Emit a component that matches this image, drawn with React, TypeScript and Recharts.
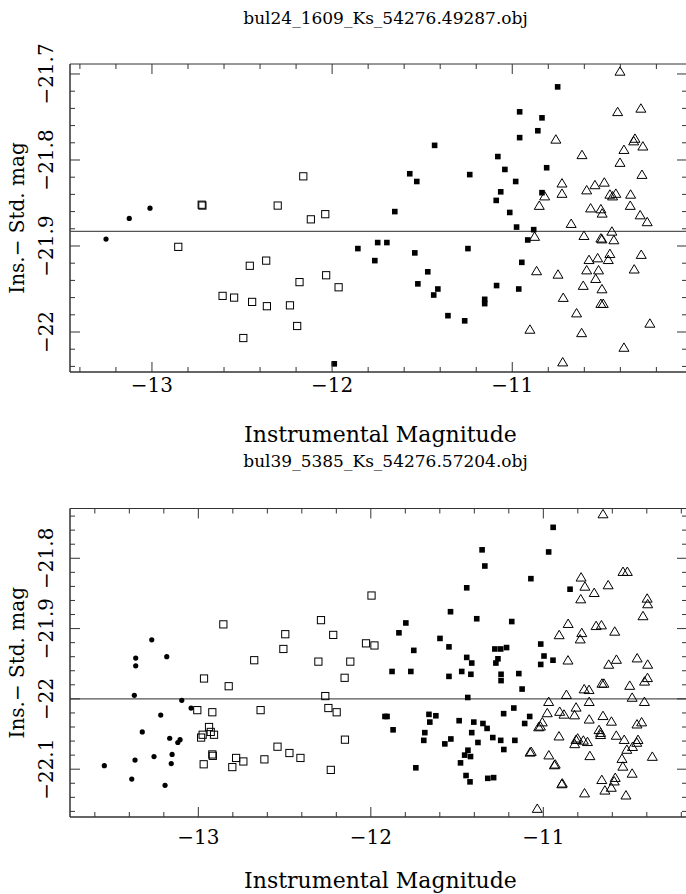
import React from "react";
import {
  ScatterChart,
  Scatter,
  XAxis,
  YAxis,
  ReferenceLine,
  ReferenceArea,
} from "recharts";

// ---------- Panel 1 data: bul24_1609_Ks_54276.49287.obj ----------
const topTitle = "bul24_1609_Ks_54276.49287.obj";
const topCircles = [
  { x: -13.255, y: -21.892 },
  { x: -13.126, y: -21.868 },
  { x: -13.011, y: -21.856 },
];
const topOpenSquares = [
  { x: -12.854, y: -21.901 },
  { x: -12.724, y: -21.852 },
  { x: -12.72, y: -21.853 },
  { x: -12.302, y: -21.853 },
  { x: -12.16, y: -21.819 },
  { x: -12.118, y: -21.869 },
  { x: -12.038, y: -21.863 },
  { x: -12.457, y: -21.923 },
  { x: -12.366, y: -21.917 },
  { x: -12.181, y: -21.942 },
  { x: -12.033, y: -21.934 },
  { x: -11.964, y: -21.948 },
  { x: -12.608, y: -21.958 },
  { x: -12.544, y: -21.96 },
  { x: -12.444, y: -21.965 },
  { x: -12.362, y: -21.97 },
  { x: -12.234, y: -21.969 },
  { x: -12.194, y: -21.993 },
  { x: -12.493, y: -22.007 },
];
const topFilledSquares = [
  { x: -11.988, y: -22.037 },
  { x: -11.857, y: -21.903 },
  { x: -11.763, y: -21.917 },
  { x: -11.747, y: -21.896 },
  { x: -11.696, y: -21.896 },
  { x: -11.652, y: -21.86 },
  { x: -11.569, y: -21.816 },
  { x: -11.53, y: -21.825 },
  { x: -11.541, y: -21.908 },
  { x: -11.524, y: -21.944 },
  { x: -11.469, y: -21.93 },
  { x: -11.431, y: -21.783 },
  { x: -11.436, y: -21.957 },
  { x: -11.413, y: -21.95 },
  { x: -11.357, y: -21.981 },
  { x: -11.264, y: -21.987 },
  { x: -11.246, y: -21.903 },
  { x: -11.236, y: -21.817 },
  { x: -11.153, y: -21.962 },
  { x: -11.153, y: -21.967 },
  { x: -11.089, y: -21.847 },
  { x: -11.087, y: -21.946 },
  { x: -11.08, y: -21.796 },
  { x: -11.064, y: -21.837 },
  { x: -11.041, y: -21.811 },
  { x: -11.014, y: -21.861 },
  { x: -10.976, y: -21.878 },
  { x: -10.981, y: -21.825 },
  { x: -10.964, y: -21.95 },
  { x: -10.959, y: -21.744 },
  { x: -10.959, y: -21.774 },
  { x: -10.947, y: -21.919 },
  { x: -10.914, y: -21.893 },
  { x: -10.881, y: -21.881 },
  { x: -10.858, y: -21.766 },
  { x: -10.835, y: -21.751 },
  { x: -10.835, y: -21.838 },
  { x: -10.809, y: -21.809 },
  { x: -10.748, y: -21.715 },
];
const topTriangles = [
  { x: -10.402, y: -21.697 },
  { x: -10.415, y: -21.744 },
  { x: -10.286, y: -21.74 },
  { x: -10.758, y: -21.776 },
  { x: -10.319, y: -21.775 },
  { x: -10.326, y: -21.778 },
  { x: -10.38, y: -21.788 },
  { x: -10.275, y: -21.784 },
  { x: -10.613, y: -21.794 },
  { x: -10.402, y: -21.803 },
  { x: -10.28, y: -21.817 },
  { x: -10.724, y: -21.827 },
  { x: -10.541, y: -21.829 },
  { x: -10.489, y: -21.826 },
  { x: -10.724, y: -21.839 },
  { x: -10.587, y: -21.835 },
  { x: -10.458, y: -21.84 },
  { x: -10.425, y: -21.839 },
  { x: -10.443, y: -21.842 },
  { x: -10.343, y: -21.84 },
  { x: -10.82, y: -21.842 },
  { x: -10.85, y: -21.853 },
  { x: -10.565, y: -21.856 },
  { x: -10.508, y: -21.857 },
  { x: -10.501, y: -21.862 },
  { x: -10.345, y: -21.853 },
  { x: -10.29, y: -21.864 },
  { x: -10.251, y: -21.872 },
  { x: -10.673, y: -21.874 },
  { x: -10.602, y: -21.888 },
  { x: -10.508, y: -21.891 },
  { x: -10.502, y: -21.892 },
  { x: -10.447, y: -21.883 },
  { x: -10.436, y: -21.893 },
  { x: -10.876, y: -21.889 },
  { x: -10.574, y: -21.916 },
  { x: -10.526, y: -21.914 },
  { x: -10.458, y: -21.909 },
  { x: -10.467, y: -21.916 },
  { x: -10.284, y: -21.91 },
  { x: -10.865, y: -21.929 },
  { x: -10.746, y: -21.933 },
  { x: -10.587, y: -21.928 },
  { x: -10.521, y: -21.928 },
  { x: -10.323, y: -21.927 },
  { x: -10.537, y: -21.938 },
  { x: -10.606, y: -21.946 },
  { x: -10.502, y: -21.95 },
  { x: -10.717, y: -21.96 },
  { x: -10.508, y: -21.967 },
  { x: -10.495, y: -21.967 },
  { x: -10.643, y: -21.978 },
  { x: -10.236, y: -21.99 },
  { x: -10.902, y: -21.997 },
  { x: -10.615, y: -22.001 },
  { x: -10.38, y: -22.018 },
  { x: -10.72, y: -22.035 },
];
const topZeroPoint = -21.883;
const topXDomain = [-13.455, -10.03];
const topYDomain = [-22.0465, -21.6884];
const topXMajor = [-13, -12, -11];
const topXTicks = [-13.4, -13.2, -13, -12.8, -12.6, -12.4, -12.2, -12, -11.8, -11.6, -11.4, -11.2, -11, -10.8, -10.6, -10.4, -10.2];
const topYMajor = [-22.0, -21.9, -21.8, -21.7];
const topYTicks = [-22.04, -22.02, -22.0, -21.98, -21.96, -21.94, -21.92, -21.9, -21.88, -21.86, -21.84, -21.82, -21.8, -21.78, -21.76, -21.74, -21.72, -21.7];

// ---------- Panel 2 data: bul39_5385_Ks_54276.57204.obj ----------
const botTitle = "bul39_5385_Ks_54276.57204.obj";
const botCircles = [
  { x: -13.27, y: -21.916 },
  { x: -13.363, y: -21.942 },
  { x: -13.363, y: -21.953 },
  { x: -13.183, y: -21.94 },
  { x: -13.371, y: -21.995 },
  { x: -13.096, y: -22.002 },
  { x: -13.042, y: -22.013 },
  { x: -13.218, y: -22.023 },
  { x: -13.325, y: -22.047 },
  { x: -13.166, y: -22.056 },
  { x: -13.119, y: -22.062 },
  { x: -13.106, y: -22.058 },
  { x: -13.257, y: -22.082 },
  { x: -13.367, y: -22.087 },
  { x: -13.152, y: -22.079 },
  { x: -13.157, y: -22.092 },
  { x: -13.545, y: -22.095 },
  { x: -13.386, y: -22.114 },
  { x: -13.193, y: -22.123 },
];
const botOpenSquares = [
  { x: -12.855, y: -21.894 },
  { x: -12.496, y: -21.908 },
  { x: -12.289, y: -21.888 },
  { x: -12.218, y: -21.909 },
  { x: -12.507, y: -21.929 },
  { x: -12.676, y: -21.945 },
  { x: -12.304, y: -21.947 },
  { x: -12.967, y: -21.971 },
  { x: -12.824, y: -21.982 },
  { x: -12.264, y: -21.996 },
  { x: -12.246, y: -22.013 },
  { x: -12.198, y: -22.019 },
  { x: -13.006, y: -22.016 },
  { x: -12.919, y: -22.019 },
  { x: -12.639, y: -22.016 },
  { x: -12.938, y: -22.04 },
  { x: -12.928, y: -22.047 },
  { x: -12.909, y: -22.051 },
  { x: -12.975, y: -22.051 },
  { x: -12.984, y: -22.055 },
  { x: -12.541, y: -22.068 },
  { x: -12.472, y: -22.077 },
  { x: -12.408, y: -22.084 },
  { x: -12.919, y: -22.079 },
  { x: -12.916, y: -22.081 },
  { x: -12.781, y: -22.084 },
  { x: -12.739, y: -22.089 },
  { x: -12.617, y: -22.086 },
  { x: -12.969, y: -22.093 },
  { x: -12.803, y: -22.097 },
  { x: -12.232, y: -22.101 },
  { x: -11.996, y: -21.853 },
  { x: -12.028, y: -21.921 },
  { x: -11.979, y: -21.924 },
  { x: -12.119, y: -21.947 },
  { x: -12.152, y: -21.97 },
  { x: -12.15, y: -22.058 },
];
const botFilledSquares = [
  { x: -10.943, y: -21.756 },
  { x: -10.969, y: -21.791 },
  { x: -11.355, y: -21.788 },
  { x: -11.339, y: -21.811 },
  { x: -11.072, y: -21.829 },
  { x: -11.444, y: -21.842 },
  { x: -10.845, y: -21.844 },
  { x: -11.538, y: -21.876 },
  { x: -11.386, y: -21.886 },
  { x: -11.183, y: -21.89 },
  { x: -11.797, y: -21.892 },
  { x: -11.837, y: -21.906 },
  { x: -11.599, y: -21.914 },
  { x: -11.547, y: -21.926 },
  { x: -11.281, y: -21.929 },
  { x: -11.247, y: -21.929 },
  { x: -11.213, y: -21.927 },
  { x: -11.015, y: -21.922 },
  { x: -11.751, y: -21.931 },
  { x: -10.996, y: -21.939 },
  { x: -10.944, y: -21.945 },
  { x: -11.015, y: -21.951 },
  { x: -11.444, y: -21.941 },
  { x: -11.415, y: -21.949 },
  { x: -11.263, y: -21.943 },
  { x: -11.275, y: -21.949 },
  { x: -11.877, y: -21.961 },
  { x: -11.768, y: -21.961 },
  { x: -11.547, y: -21.968 },
  { x: -11.473, y: -21.961 },
  { x: -11.42, y: -21.965 },
  { x: -11.245, y: -21.965 },
  { x: -11.245, y: -21.974 },
  { x: -11.142, y: -21.964 },
  { x: -11.123, y: -21.986 },
  { x: -11.438, y: -21.998 },
  { x: -11.918, y: -22.025 },
  { x: -11.906, y: -22.025 },
  { x: -11.871, y: -22.044 },
  { x: -11.663, y: -22.022 },
  { x: -11.623, y: -22.024 },
  { x: -11.658, y: -22.033 },
  { x: -11.488, y: -22.031 },
  { x: -11.403, y: -22.033 },
  { x: -11.35, y: -22.035 },
  { x: -11.326, y: -22.042 },
  { x: -11.23, y: -22.021 },
  { x: -11.171, y: -22.013 },
  { x: -11.079, y: -22.025 },
  { x: -11.108, y: -22.035 },
  { x: -11.687, y: -22.048 },
  { x: -11.693, y: -22.059 },
  { x: -11.571, y: -22.064 },
  { x: -11.536, y: -22.057 },
  { x: -11.415, y: -22.048 },
  { x: -11.379, y: -22.062 },
  { x: -11.293, y: -22.055 },
  { x: -11.247, y: -22.059 },
  { x: -11.165, y: -22.059 },
  { x: -11.229, y: -22.072 },
  { x: -11.437, y: -22.073 },
  { x: -11.456, y: -22.08 },
  { x: -11.422, y: -22.082 },
  { x: -11.48, y: -22.091 },
  { x: -11.739, y: -22.098 },
  { x: -11.448, y: -22.109 },
  { x: -11.425, y: -22.118 },
  { x: -11.322, y: -22.113 },
  { x: -11.288, y: -22.112 },
];
const botTriangles = [
  { x: -10.654, y: -21.737 },
  { x: -10.538, y: -21.819 },
  { x: -10.513, y: -21.819 },
  { x: -10.781, y: -21.827 },
  { x: -10.759, y: -21.84 },
  { x: -10.624, y: -21.838 },
  { x: -10.705, y: -21.849 },
  { x: -10.783, y: -21.858 },
  { x: -10.398, y: -21.857 },
  { x: -10.395, y: -21.865 },
  { x: -10.422, y: -21.882 },
  { x: -10.856, y: -21.893 },
  { x: -10.694, y: -21.896 },
  { x: -10.663, y: -21.895 },
  { x: -10.908, y: -21.909 },
  { x: -10.777, y: -21.906 },
  { x: -10.786, y: -21.915 },
  { x: -10.586, y: -21.904 },
  { x: -10.857, y: -21.945 },
  { x: -10.576, y: -21.944 },
  { x: -10.621, y: -21.951 },
  { x: -10.456, y: -21.942 },
  { x: -10.395, y: -21.951 },
  { x: -10.396, y: -21.97 },
  { x: -10.413, y: -21.975 },
  { x: -10.66, y: -21.978 },
  { x: -10.649, y: -21.978 },
  { x: -10.499, y: -21.981 },
  { x: -10.763, y: -21.986 },
  { x: -10.735, y: -21.987 },
  { x: -10.866, y: -21.994 },
  { x: -10.485, y: -21.998 },
  { x: -10.414, y: -22.004 },
  { x: -10.969, y: -22.004 },
  { x: -10.734, y: -22.004 },
  { x: -10.81, y: -22.012 },
  { x: -10.977, y: -22.02 },
  { x: -10.905, y: -22.018 },
  { x: -10.88, y: -22.022 },
  { x: -10.819, y: -22.023 },
  { x: -10.734, y: -22.029 },
  { x: -10.654, y: -22.024 },
  { x: -10.605, y: -22.032 },
  { x: -11.006, y: -22.033 },
  { x: -11.017, y: -22.039 },
  { x: -11.027, y: -22.04 },
  { x: -10.677, y: -22.044 },
  { x: -10.668, y: -22.048 },
  { x: -10.668, y: -22.051 },
  { x: -10.457, y: -22.036 },
  { x: -10.43, y: -22.033 },
  { x: -10.909, y: -22.053 },
  { x: -10.801, y: -22.056 },
  { x: -10.81, y: -22.058 },
  { x: -10.818, y: -22.064 },
  { x: -10.768, y: -22.059 },
  { x: -10.744, y: -22.061 },
  { x: -10.577, y: -22.052 },
  { x: -10.531, y: -22.058 },
  { x: -10.451, y: -22.058 },
  { x: -10.458, y: -22.062 },
  { x: -10.483, y: -22.068 },
  { x: -10.516, y: -22.072 },
  { x: -11.07, y: -22.075 },
  { x: -11.077, y: -22.076 },
  { x: -10.968, y: -22.08 },
  { x: -10.73, y: -22.081 },
  { x: -10.544, y: -22.085 },
  { x: -10.539, y: -22.096 },
  { x: -10.368, y: -22.082 },
  { x: -10.931, y: -22.093 },
  { x: -10.936, y: -22.094 },
  { x: -10.485, y: -22.106 },
  { x: -10.893, y: -22.121 },
  { x: -10.89, y: -22.12 },
  { x: -10.661, y: -22.115 },
  { x: -10.583, y: -22.112 },
  { x: -10.589, y: -22.117 },
  { x: -10.606, y: -22.126 },
  { x: -10.643, y: -22.13 },
  { x: -10.761, y: -22.134 },
  { x: -10.521, y: -22.137 },
  { x: -11.035, y: -22.156 },
];
const botZeroPoint = -22.0;
const botXDomain = [-13.744, -10.167];
const botYDomain = [-22.168, -21.7292];
const botXMajor = [-13, -12, -11];
const botXTicks = [-13.6, -13.4, -13.2, -13, -12.8, -12.6, -12.4, -12.2, -12, -11.8, -11.6, -11.4, -11.2, -11, -10.8, -10.6, -10.4, -10.2];
const botYMajor = [-22.1, -22.0, -21.9, -21.8];
const botYTicks = [-22.16, -22.14, -22.12, -22.1, -22.08, -22.06, -22.04, -22.02, -22.0, -21.98, -21.96, -21.94, -21.92, -21.9, -21.88, -21.86, -21.84, -21.82, -21.8, -21.78, -21.76, -21.74];

const xAxisTitle = "Instrumental Magnitude";
const yAxisTitle = "Ins.\u2212 Std. mag";

// ---------- Styling / layout ----------
const FONT = "'DejaVu Serif', 'Liberation Serif', serif";
const INK = "#000";
const FRAME = "#333";
const CHART_W = 688;
const CHART_H = 447;
const PLOT_LEFT = 70;
const PLOT_RIGHT = 687;

const isMajor = (v: number, majors: number[]) => majors.some((m) => Math.abs(m - v) < 1e-6);
const fmt = (v: number) => (v < 0 ? "\u2212" : "") + String(Math.abs(v));

const CircleShape = (p: any) => <circle cx={p.cx} cy={p.cy} r={2.6} fill={INK} />;
const OpenSquareShape = (p: any) => (
  <rect x={p.cx - 3.6} y={p.cy - 3.6} width={7.2} height={7.2} fill="none" stroke={INK} strokeWidth={1} />
);
const FilledSquareShape = (p: any) => (
  <rect x={p.cx - 2.8} y={p.cy - 2.8} width={5.6} height={5.6} fill={INK} />
);
const TriangleShape = (p: any) => (
  <polygon
    points={`${p.cx},${p.cy - 4.6} ${p.cx + 5},${p.cy + 3.8} ${p.cx - 5},${p.cy + 3.8}`}
    fill="none"
    stroke={INK}
    strokeWidth={1}
  />
);

type Layout = {
  plotTop: number;
  plotBottom: number;
  xTickBaseline: number;
  titleBaseline: number;
  xTitleBaseline: number;
};

function Panel(props: {
  title: string;
  circles: any[];
  openSquares: any[];
  filledSquares: any[];
  triangles: any[];
  zeroPoint: number;
  xDomain: number[];
  yDomain: number[];
  xTicks: number[];
  xMajor: number[];
  yTicks: number[];
  yMajor: number[];
  L: Layout;
}) {
  const { L } = props;
  const XTick = (p: any) => {
    const x = p.x;
    const v = p.payload.value;
    const major = isMajor(v, props.xMajor);
    const len = major ? 10 : 5;
    return (
      <g>
        <line x1={x} x2={x} y1={L.plotBottom} y2={L.plotBottom - len} stroke={FRAME} strokeWidth={1} />
        <line x1={x} x2={x} y1={L.plotTop} y2={L.plotTop + len} stroke={FRAME} strokeWidth={1} />
        {major && (
          <text x={x} y={L.xTickBaseline} textAnchor="middle" fontFamily={FONT} fontSize={20} fill={INK}>
            {fmt(v)}
          </text>
        )}
      </g>
    );
  };
  const YTick = (p: any) => {
    const y = p.y;
    const v = p.payload.value;
    const major = isMajor(v, props.yMajor);
    const len = major ? 10 : 5;
    return (
      <g>
        <line x1={PLOT_LEFT} x2={PLOT_LEFT + len} y1={y} y2={y} stroke={FRAME} strokeWidth={1} />
        <line x1={PLOT_RIGHT} x2={PLOT_RIGHT - len} y1={y} y2={y} stroke={FRAME} strokeWidth={1} />
        {major && (
          <text
            transform={`translate(53, ${y}) rotate(-90)`}
            textAnchor="middle"
            fontFamily={FONT}
            fontSize={20}
            fill={INK}
          >
            {fmt(v)}
          </text>
        )}
      </g>
    );
  };
  const midX = (PLOT_LEFT + PLOT_RIGHT) / 2 + 2;
  const midY = (L.plotTop + L.plotBottom) / 2;
  return (
    <div style={{ position: "relative", width: CHART_W, height: CHART_H }}>
      <ScatterChart
        width={CHART_W}
        height={CHART_H}
        margin={{ top: L.plotTop, right: CHART_W - PLOT_RIGHT, bottom: 0, left: 0 }}
      >
        <XAxis
          type="number"
          dataKey="x"
          domain={props.xDomain}
          allowDataOverflow
          ticks={props.xTicks}
          interval={0}
          height={CHART_H - L.plotBottom}
          axisLine={{ stroke: FRAME, strokeWidth: 1 }}
          tickLine={false}
          tick={XTick}
        />
        <YAxis
          type="number"
          dataKey="y"
          domain={props.yDomain}
          allowDataOverflow
          ticks={props.yTicks}
          interval={0}
          width={PLOT_LEFT}
          axisLine={{ stroke: FRAME, strokeWidth: 1 }}
          tickLine={false}
          tick={YTick}
        />
        <ReferenceArea
          x1={props.xDomain[0]}
          x2={props.xDomain[1]}
          y1={props.yDomain[0]}
          y2={props.yDomain[1]}
          fill="none"
          fillOpacity={0}
          stroke={FRAME}
          strokeWidth={1}
        />
        <ReferenceLine y={props.zeroPoint} stroke="#555" strokeWidth={1.2} />
        <Scatter data={props.circles} shape={CircleShape} isAnimationActive={false} />
        <Scatter data={props.openSquares} shape={OpenSquareShape} isAnimationActive={false} />
        <Scatter data={props.filledSquares} shape={FilledSquareShape} isAnimationActive={false} />
        <Scatter data={props.triangles} shape={TriangleShape} isAnimationActive={false} />
      </ScatterChart>
      <svg
        width={CHART_W}
        height={CHART_H}
        style={{ position: "absolute", left: 0, top: 0, pointerEvents: "none" }}
      >
        <text x={midX + 5} y={L.titleBaseline} textAnchor="middle" fontFamily={FONT} fontSize={17} fill={INK}>
          {props.title}
        </text>
        <text x={midX} y={L.xTitleBaseline} textAnchor="middle" fontFamily={FONT} fontSize={22} fill={INK}>
          {xAxisTitle}
        </text>
        <text
          transform={`translate(24, ${midY}) rotate(-90)`}
          textAnchor="middle"
          fontFamily={FONT}
          fontSize={20}
          fill={INK}
        >
          {yAxisTitle}
        </text>
      </svg>
    </div>
  );
}

export default function App() {
  return (
    <div
      style={{
        position: "absolute",
        left: 0,
        top: 0,
        width: 686,
        height: 894,
        overflow: "hidden",
        background: "#fff",
      }}
    >
      <Panel
        title={topTitle}
        circles={topCircles}
        openSquares={topOpenSquares}
        filledSquares={topFilledSquares}
        triangles={topTriangles}
        zeroPoint={topZeroPoint}
        xDomain={topXDomain}
        yDomain={topYDomain}
        xTicks={topXTicks}
        xMajor={topXMajor}
        yTicks={topYTicks}
        yMajor={topYMajor}
        L={{ plotTop: 64, plotBottom: 372, xTickBaseline: 392, titleBaseline: 24, xTitleBaseline: 442 }}
      />
      <Panel
        title={botTitle}
        circles={botCircles}
        openSquares={botOpenSquares}
        filledSquares={botFilledSquares}
        triangles={botTriangles}
        zeroPoint={botZeroPoint}
        xDomain={botXDomain}
        yDomain={botYDomain}
        xTicks={botXTicks}
        xMajor={botXMajor}
        yTicks={botYTicks}
        yMajor={botYMajor}
        L={{ plotTop: 61.5, plotBottom: 370, xTickBaseline: 397, titleBaseline: 20, xTitleBaseline: 441 }}
      />
    </div>
  );
}
